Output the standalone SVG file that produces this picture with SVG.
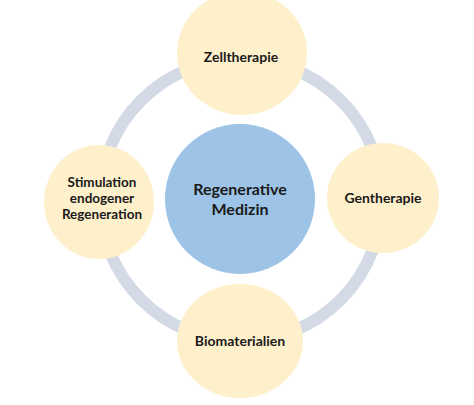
<svg xmlns="http://www.w3.org/2000/svg" width="474" height="405" viewBox="0 0 474 405">
<style>
.sat{fill:#FFF0CC;}
.core{fill:#9DC3E6;}
.ring{fill:none;stroke:#D3DAE6;stroke-width:12;}
text{font-family:"Lato","Open Sans","Liberation Sans",sans-serif;font-weight:bold;fill:#1a1a1a;text-anchor:middle;}
.s{font-size:14px;}
.m{font-size:13.5px;}
.c{font-size:16px;}
</style>
<rect width="474" height="405" fill="#ffffff"/>
<g id="connectors">
<circle class="ring" cx="241" cy="200" r="141"/>
</g>
<g id="center">
<circle class="core" cx="240" cy="199" r="75"/>
<text class="c" x="240" y="195">Regenerative</text>
<text class="c" x="240" y="215">Medizin</text>
</g>
<g id="zelltherapie">
<ellipse class="sat" cx="242" cy="53" rx="65" ry="62"/>
<text class="s" x="241" y="62">Zelltherapie</text>
</g>
<g id="stimulation">
<ellipse class="sat" cx="99" cy="202" rx="55" ry="57"/>
<text class="m" x="102" y="187">Stimulation</text>
<text class="m" x="102" y="203">endogener</text>
<text class="m" x="102" y="219">Regeneration</text>
</g>
<g id="gentherapie">
<ellipse class="sat" cx="383" cy="198" rx="56" ry="55"/>
<text class="s" x="383" y="203">Gentherapie</text>
</g>
<g id="biomaterialien">
<ellipse class="sat" cx="240" cy="341" rx="63" ry="57"/>
<text class="s" x="240" y="346">Biomaterialien</text>
</g>
</svg>
